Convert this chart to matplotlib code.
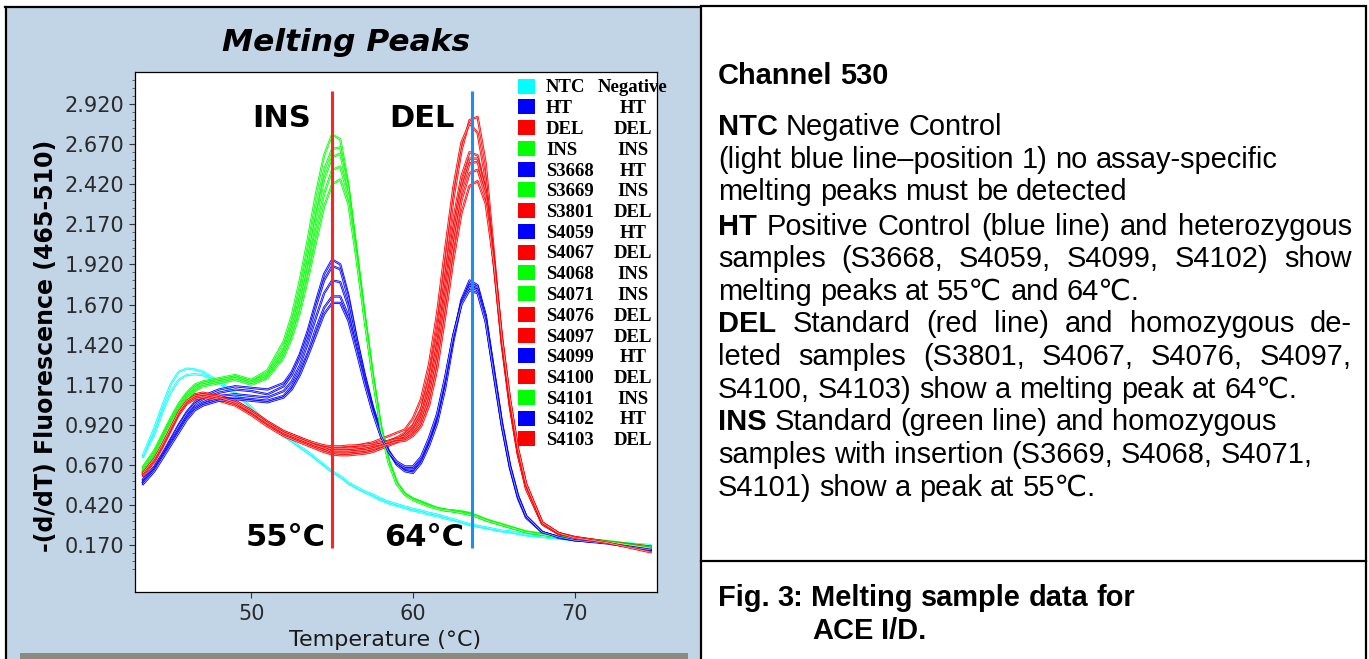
import matplotlib

matplotlib.use("Agg")
import matplotlib.pyplot as plt
import numpy as np
from matplotlib.lines import Line2D
from matplotlib.patches import Rectangle

FIG_W, FIG_H = 1369, 659

# temperature grid (deg C) the curves were read at
temps = [43.3, 44.0, 44.5, 45.0, 45.5, 46.0, 46.5, 47.0, 48.0, 49.0, 50.0, 51.0,
         52.0, 52.5, 53.0, 53.5, 54.0, 54.5, 55.0, 55.5, 56.0, 56.5, 57.0, 57.5,
         58.0, 58.5, 59.0, 59.5, 60.0, 60.5, 61.0, 61.5, 62.0, 62.5, 63.0, 63.5,
         64.0, 64.5, 65.0, 65.5, 66.0, 66.5, 67.0, 68.0, 69.0, 70.0, 72.0, 74.7]

ntc = [0.73, 0.90, 1.04, 1.17, 1.25, 1.27, 1.265, 1.25, 1.19, 1.12, 1.03, 0.93,
       0.855, 0.82, 0.785, 0.75, 0.71, 0.67, 0.63, 0.60, 0.56, 0.53, 0.505, 0.485,
       0.46, 0.44, 0.425, 0.41, 0.395, 0.385, 0.37, 0.36, 0.345, 0.33, 0.315, 0.30,
       0.29, 0.28, 0.27, 0.26, 0.255, 0.245, 0.235, 0.225, 0.215, 0.205, 0.19, 0.17]
ntc_rep = [0.72, 0.86, 1.00, 1.12, 1.20, 1.23, 1.235, 1.23, 1.18, 1.11, 1.025, 0.925,
           0.85, 0.815, 0.78, 0.745, 0.705, 0.665, 0.625, 0.595, 0.555, 0.525, 0.50, 0.475,
           0.45, 0.43, 0.415, 0.40, 0.385, 0.375, 0.36, 0.35, 0.335, 0.325, 0.31, 0.295,
           0.285, 0.275, 0.265, 0.255, 0.25, 0.24, 0.23, 0.22, 0.21, 0.20, 0.185, 0.165]

ht_ctrl = [0.58, 0.66, 0.74, 0.83, 0.92, 1.00, 1.06, 1.10, 1.14, 1.16, 1.15, 1.14,
           1.18, 1.25, 1.36, 1.51, 1.69, 1.86, 1.95, 1.92, 1.73, 1.47, 1.24, 1.04,
           0.88, 0.76, 0.68, 0.64, 0.63, 0.69, 0.80, 0.94, 1.17, 1.46, 1.70, 1.82,
           1.79, 1.60, 1.26, 0.93, 0.66, 0.47, 0.35, 0.25, 0.22, 0.205, 0.19, 0.15]
s3668 = [0.57, 0.65, 0.73, 0.82, 0.91, 0.99, 1.05, 1.08, 1.12, 1.14, 1.13, 1.11,
         1.16, 1.23, 1.34, 1.48, 1.66, 1.82, 1.91, 1.89, 1.71, 1.46, 1.23, 1.03,
         0.87, 0.75, 0.67, 0.63, 0.62, 0.68, 0.79, 0.93, 1.15, 1.44, 1.68, 1.80,
         1.78, 1.60, 1.27, 0.94, 0.67, 0.48, 0.35, 0.25, 0.22, 0.205, 0.185, 0.145]
s4059 = [0.56, 0.64, 0.72, 0.81, 0.89, 0.97, 1.03, 1.06, 1.10, 1.11, 1.10, 1.09,
         1.13, 1.19, 1.29, 1.43, 1.59, 1.74, 1.82, 1.81, 1.66, 1.43, 1.21, 1.02,
         0.86, 0.75, 0.68, 0.645, 0.64, 0.70, 0.82, 0.97, 1.20, 1.47, 1.69, 1.79,
         1.76, 1.57, 1.23, 0.91, 0.65, 0.46, 0.34, 0.25, 0.215, 0.20, 0.185, 0.15]
s4099 = [0.56, 0.64, 0.72, 0.80, 0.88, 0.96, 1.02, 1.05, 1.08, 1.09, 1.08, 1.07,
         1.10, 1.16, 1.25, 1.37, 1.52, 1.65, 1.72, 1.72, 1.60, 1.40, 1.19, 1.01,
         0.86, 0.75, 0.68, 0.65, 0.65, 0.71, 0.83, 0.98, 1.21, 1.48, 1.68, 1.78,
         1.76, 1.58, 1.25, 0.92, 0.66, 0.47, 0.35, 0.25, 0.22, 0.20, 0.185, 0.14]
s4102 = [0.55, 0.63, 0.71, 0.79, 0.87, 0.95, 1.01, 1.04, 1.07, 1.08, 1.07, 1.06,
         1.09, 1.14, 1.23, 1.35, 1.48, 1.61, 1.68, 1.68, 1.57, 1.38, 1.18, 1.00,
         0.85, 0.75, 0.69, 0.66, 0.66, 0.72, 0.84, 0.99, 1.22, 1.48, 1.67, 1.76,
         1.74, 1.56, 1.24, 0.92, 0.66, 0.47, 0.35, 0.25, 0.22, 0.20, 0.18, 0.14]

del_std = [0.62, 0.71, 0.80, 0.90, 1.00, 1.07, 1.10, 1.11, 1.09, 1.06, 1.00, 0.93,
           0.87, 0.85, 0.83, 0.81, 0.79, 0.77, 0.76, 0.76, 0.76, 0.765, 0.77, 0.78,
           0.80, 0.82, 0.84, 0.87, 0.92, 1.02, 1.22, 1.52, 1.92, 2.33, 2.63, 2.82,
           2.84, 2.55, 2.00, 1.45, 1.05, 0.74, 0.53, 0.30, 0.24, 0.215, 0.19, 0.15]
s3801 = [0.63, 0.72, 0.81, 0.91, 1.01, 1.08, 1.11, 1.12, 1.10, 1.07, 1.01, 0.94,
         0.88, 0.86, 0.84, 0.82, 0.80, 0.79, 0.78, 0.78, 0.785, 0.79, 0.80, 0.81,
         0.83, 0.85, 0.87, 0.89, 0.96, 1.08, 1.30, 1.62, 2.02, 2.40, 2.68, 2.80,
         2.74, 2.45, 1.95, 1.42, 1.03, 0.73, 0.52, 0.30, 0.24, 0.215, 0.19, 0.16]
s4067 = [0.61, 0.70, 0.79, 0.89, 0.99, 1.06, 1.09, 1.10, 1.08, 1.05, 0.99, 0.92,
         0.86, 0.84, 0.82, 0.80, 0.78, 0.76, 0.745, 0.74, 0.74, 0.745, 0.75, 0.76,
         0.78, 0.80, 0.82, 0.86, 0.91, 1.01, 1.20, 1.48, 1.84, 2.20, 2.47, 2.62,
         2.60, 2.38, 1.92, 1.42, 1.03, 0.73, 0.52, 0.30, 0.24, 0.21, 0.185, 0.14]
s4076 = [0.62, 0.71, 0.80, 0.90, 1.00, 1.07, 1.10, 1.11, 1.10, 1.07, 1.01, 0.94,
         0.88, 0.86, 0.84, 0.82, 0.805, 0.79, 0.785, 0.785, 0.79, 0.79, 0.795, 0.80,
         0.81, 0.82, 0.835, 0.85, 0.89, 0.98, 1.15, 1.42, 1.78, 2.14, 2.42, 2.58,
         2.58, 2.37, 1.93, 1.44, 1.05, 0.75, 0.54, 0.31, 0.245, 0.22, 0.19, 0.15]
s4097 = [0.60, 0.69, 0.78, 0.88, 0.98, 1.05, 1.08, 1.09, 1.07, 1.04, 0.98, 0.91,
         0.85, 0.83, 0.81, 0.79, 0.77, 0.75, 0.735, 0.73, 0.73, 0.735, 0.74, 0.75,
         0.77, 0.79, 0.81, 0.84, 0.88, 0.96, 1.12, 1.38, 1.73, 2.09, 2.38, 2.55,
         2.56, 2.38, 1.96, 1.47, 1.07, 0.76, 0.55, 0.31, 0.245, 0.215, 0.185, 0.13]
s4100 = [0.61, 0.70, 0.79, 0.89, 0.99, 1.06, 1.09, 1.10, 1.08, 1.05, 1.00, 0.93,
         0.87, 0.85, 0.83, 0.81, 0.79, 0.78, 0.77, 0.77, 0.77, 0.775, 0.78, 0.79,
         0.80, 0.815, 0.83, 0.83, 0.86, 0.93, 1.08, 1.33, 1.67, 2.03, 2.32, 2.49,
         2.51, 2.35, 1.95, 1.47, 1.08, 0.77, 0.55, 0.31, 0.245, 0.22, 0.19, 0.15]
s4103 = [0.62, 0.71, 0.80, 0.90, 1.00, 1.07, 1.10, 1.11, 1.09, 1.06, 1.00, 0.93,
         0.87, 0.85, 0.83, 0.81, 0.79, 0.775, 0.75, 0.75, 0.75, 0.755, 0.76, 0.77,
         0.785, 0.80, 0.815, 0.82, 0.85, 0.91, 1.04, 1.27, 1.60, 1.95, 2.24, 2.41,
         2.44, 2.30, 1.93, 1.46, 1.08, 0.77, 0.55, 0.31, 0.245, 0.215, 0.185, 0.125]

ins_std = [0.66, 0.76, 0.86, 0.96, 1.05, 1.12, 1.17, 1.19, 1.21, 1.23, 1.20, 1.26,
           1.44, 1.60, 1.82, 2.08, 2.36, 2.60, 2.73, 2.70, 2.42, 2.02, 1.62, 1.25,
           0.92, 0.70, 0.56, 0.49, 0.46, 0.44, 0.42, 0.40, 0.39, 0.385, 0.38, 0.37,
           0.35, 0.33, 0.315, 0.30, 0.285, 0.27, 0.255, 0.24, 0.225, 0.215, 0.195, 0.16]
s3669 = [0.65, 0.75, 0.85, 0.95, 1.04, 1.11, 1.16, 1.18, 1.20, 1.22, 1.19, 1.24,
         1.40, 1.55, 1.75, 2.00, 2.27, 2.51, 2.64, 2.65, 2.40, 2.01, 1.61, 1.24,
         0.92, 0.70, 0.56, 0.49, 0.46, 0.44, 0.42, 0.40, 0.39, 0.38, 0.375, 0.365,
         0.345, 0.325, 0.31, 0.295, 0.28, 0.265, 0.25, 0.235, 0.225, 0.21, 0.19, 0.155]
s4068 = [0.64, 0.74, 0.84, 0.94, 1.03, 1.10, 1.15, 1.18, 1.20, 1.22, 1.19, 1.23,
         1.38, 1.52, 1.71, 1.95, 2.21, 2.45, 2.59, 2.61, 2.39, 2.00, 1.60, 1.23,
         0.91, 0.69, 0.56, 0.49, 0.455, 0.435, 0.415, 0.40, 0.39, 0.385, 0.375, 0.365,
         0.35, 0.33, 0.31, 0.295, 0.28, 0.265, 0.25, 0.235, 0.22, 0.21, 0.19, 0.15]
s4071 = [0.63, 0.73, 0.83, 0.93, 1.02, 1.09, 1.14, 1.17, 1.19, 1.21, 1.18, 1.22,
         1.36, 1.49, 1.67, 1.89, 2.13, 2.36, 2.51, 2.53, 2.35, 1.98, 1.59, 1.23,
         0.91, 0.69, 0.55, 0.485, 0.455, 0.435, 0.415, 0.40, 0.385, 0.38, 0.37, 0.36,
         0.345, 0.325, 0.31, 0.295, 0.28, 0.265, 0.25, 0.235, 0.22, 0.21, 0.19, 0.155]
s4101 = [0.62, 0.72, 0.82, 0.92, 1.01, 1.08, 1.13, 1.16, 1.18, 1.20, 1.17, 1.21,
         1.34, 1.46, 1.62, 1.83, 2.06, 2.28, 2.42, 2.45, 2.30, 1.96, 1.58, 1.22,
         0.90, 0.68, 0.55, 0.485, 0.45, 0.43, 0.41, 0.395, 0.385, 0.38, 0.37, 0.36,
         0.345, 0.325, 0.31, 0.295, 0.28, 0.265, 0.25, 0.235, 0.22, 0.21, 0.19, 0.15]

sample_names = ["NTC", "HT", "DEL", "INS", "S3668", "S3669", "S3801", "S4059", "S4067",
                "S4068", "S4071", "S4076", "S4097", "S4099", "S4100", "S4101", "S4102", "S4103"]
sample_calls = ["Negative", "HT", "DEL", "INS", "HT", "INS", "DEL", "HT", "DEL",
                "INS", "INS", "DEL", "DEL", "HT", "DEL", "INS", "HT", "DEL"]
sample_curves = [ntc, ht_ctrl, del_std, ins_std, s3668, s3669, s3801, s4059, s4067,
                 s4068, s4071, s4076, s4097, s4099, s4100, s4101, s4102, s4103]
call_colors = {"Negative": "#00ffff", "HT": "#0000ff", "DEL": "#ff0000", "INS": "#00ff00"}

y_ticks = [0.170, 0.420, 0.670, 0.920, 1.170, 1.420, 1.670, 1.920, 2.170, 2.420, 2.670, 2.920]
x_ticks = [50, 60, 70]

peak_temps = [55.0, 63.65]
peak_line_colors = ["#ff2424", "#1e8ef0"]
peak_top_labels = ["INS", "DEL"]
peak_bottom_labels = ["55°C", "64°C"]

channel_title = "Channel 530"
body_lines = [
    [("NTC", True), ("Negative Control", False)],
    [("(light blue line–position 1) no assay-specific", False)],
    [("melting peaks must be detected", False)],
    [("HT", True), ("Positive Control (blue line) and heterozygous", False)],
    [("samples (S3668, S4059, S4099, S4102) show", False)],
    [("melting peaks at 55℃ and 64℃.", False)],
    [("DEL", True), ("Standard (red line) and homozygous de-", False)],
    [("leted samples (S3801, S4067, S4076, S4097,", False)],
    [("S4100, S4103) show a melting peak at 64℃.", False)],
    [("INS", True), ("Standard (green line) and homozygous", False)],
    [("samples with insertion (S3669, S4068, S4071,", False)],
    [("S4101) show a peak at 55℃.", False)],
]
body_justified = [False, False, False, True, True, False, True, True, False, False, False, False]
caption_lines = ["Fig. 3: Melting sample data for", "ACE I/D."]

PANEL_BLUE = "#c1d5e6"
SANS = ["Liberation Sans", "DejaVu Sans"]


def fx(px):
    return px / FIG_W


def fy(py):
    return 1 - py / FIG_H


def draw_frame(fig):
    fig.add_artist(Rectangle((fx(6), 0), fx(701) - fx(6), fy(7), transform=fig.transFigure,
                             facecolor=PANEL_BLUE, edgecolor="none", zorder=-5))
    fig.add_artist(Line2D([fx(5), fx(701)], [fy(7), fy(7)], color="black", lw=1.6, zorder=-4))
    fig.add_artist(Line2D([fx(6), fx(6)], [fy(7), 0], color="black", lw=1.6, zorder=-4))
    fig.add_artist(Rectangle((fx(20), 0), fx(688) - fx(20), fy(653), transform=fig.transFigure,
                             facecolor="#8a8a80", edgecolor="none", zorder=-4))
    # text box on the right
    fig.add_artist(Rectangle((fx(701), -0.01), fx(1366) - fx(701), fy(6) + 0.01,
                             transform=fig.transFigure, facecolor="white",
                             edgecolor="black", lw=1.6, zorder=-3))
    fig.add_artist(Line2D([fx(701), fx(1366)], [fy(561), fy(561)], color="black", lw=1.6, zorder=-2))


def draw_curves(ax):
    traces = [(ntc_rep, "Negative")] + list(zip(sample_curves, sample_calls))
    for values, call in traces:
        ax.plot(temps, values, color=call_colors[call], lw=1.6, zorder=2)
        ax.plot(temps, values, color="white", lw=0.45, alpha=0.8, zorder=2)

    for temp, color, top, bottom, top_off, bot_off in zip(
            peak_temps, peak_line_colors, peak_top_labels, peak_bottom_labels, [1.3, 1.1], [0.4, 0.5]):
        ax.vlines(temp, 0.15, 3.0, color=color, lw=2.2, zorder=4)
        ax.text(temp - top_off, 2.83, top, ha="right", va="center", fontsize=22,
                fontweight="bold", family="DejaVu Sans")
        ax.text(temp - bot_off, 0.215, bottom, ha="right", va="center", fontsize=22,
                fontweight="bold", family="DejaVu Sans")


def style_axes(ax):
    ax.set_xlim(42.8, 75.1)
    ax.set_ylim(-0.123, 3.12)
    ax.set_yticks(y_ticks, labels=[f"{v:.3f}" for v in y_ticks])
    ax.set_yticks(np.arange(0.02, 3.12, 0.05), minor=True)
    ax.set_xticks(x_ticks, labels=[str(v) for v in x_ticks])
    ax.tick_params(axis="both", which="major", direction="out", length=4, width=0.8,
                   labelsize=15, labelcolor="#2a2a2a", color="#333333")
    ax.tick_params(axis="y", which="minor", direction="out", length=2.2, width=0.6, color="#555555")
    ax.tick_params(axis="x", pad=5)
    for spine in ax.spines.values():
        spine.set_linewidth(0.9)
        spine.set_color("black")


def draw_legend(fig):
    for i, (name, call) in enumerate(zip(sample_names, sample_calls)):
        row = 86 + i * 20.75
        fig.add_artist(Rectangle((fx(518), fy(row + 7.5)), fx(17), 15 / FIG_H, transform=fig.transFigure,
                                 facecolor=call_colors[call], edgecolor="none", zorder=6))
        fig.text(fx(546), fy(row + 6.5), name, ha="left", va="baseline", fontsize=13.5,
                 fontweight="bold", family="Liberation Serif", zorder=6)
        fig.text(fx(633), fy(row + 6.5), call, ha="center", va="baseline", fontsize=13.5,
                 fontweight="bold", family="Liberation Serif", zorder=6)


def draw_words(fig, renderer, x_px, base_px, runs, right_px=None, size=20.9):
    words = []
    for text, bold in runs:
        words.extend((word, bold) for word in text.split())
    probe = fig.text(0, 0, "x x", fontsize=size, family=SANS)
    probe2 = fig.text(0, 0, "xx", fontsize=size, family=SANS)
    space = probe.get_window_extent(renderer).width - probe2.get_window_extent(renderer).width
    probe.remove()
    probe2.remove()

    artists, widths = [], []
    for word, bold in words:
        t = fig.text(0, fy(base_px), word, fontsize=size, family=SANS, va="baseline",
                     fontweight="bold" if bold else "normal")
        artists.append(t)
        widths.append(t.get_window_extent(renderer).width)
    gap = space
    if right_px is not None and len(words) > 1:
        gap = (right_px - x_px - sum(widths)) / (len(words) - 1)
    x = x_px
    for t, w in zip(artists, widths):
        t.set_x(fx(x))
        x += w + gap


def draw_text_panel(fig):
    renderer = fig.canvas.get_renderer()
    draw_words(fig, renderer, 718, 84, [(channel_title, True)])
    baselines = [135, 168, 200, 235, 267, 300, 332, 365, 398, 430, 463, 496]
    for runs, justify, base in zip(body_lines, body_justified, baselines):
        draw_words(fig, renderer, 718, base, runs, right_px=1352 if justify else None)
    draw_words(fig, renderer, 718, 606, [(caption_lines[0], True)])
    draw_words(fig, renderer, 812, 639, [(caption_lines[1], True)])


def main():
    fig = plt.figure(figsize=(FIG_W / 100, FIG_H / 100), dpi=100)
    fig.patch.set_facecolor("white")
    draw_frame(fig)

    ax = fig.add_axes([fx(135), fy(592), fx(522), 520 / FIG_H])
    ax.set_facecolor("white")
    draw_curves(ax)
    style_axes(ax)

    fig.text(fx(346), fy(51), "Melting Peaks", ha="center", va="baseline", fontsize=22.5,
             fontweight="bold", fontstyle="italic", family="DejaVu Sans")
    fig.text(fx(46), fy(346), "-(d/dT) Fluorescence (465-510)", rotation=90, ha="center",
             va="center", fontsize=17, fontweight="bold", family="DejaVu Sans")
    fig.text(fx(385), fy(640), "Temperature (°C)", ha="center", va="center", fontsize=16,
             color="#1a1a1a", family="DejaVu Sans")

    draw_legend(fig)
    draw_text_panel(fig)
    fig.savefig("out.png", dpi=100)
    plt.close(fig)


if __name__ == "__main__":
    main()
